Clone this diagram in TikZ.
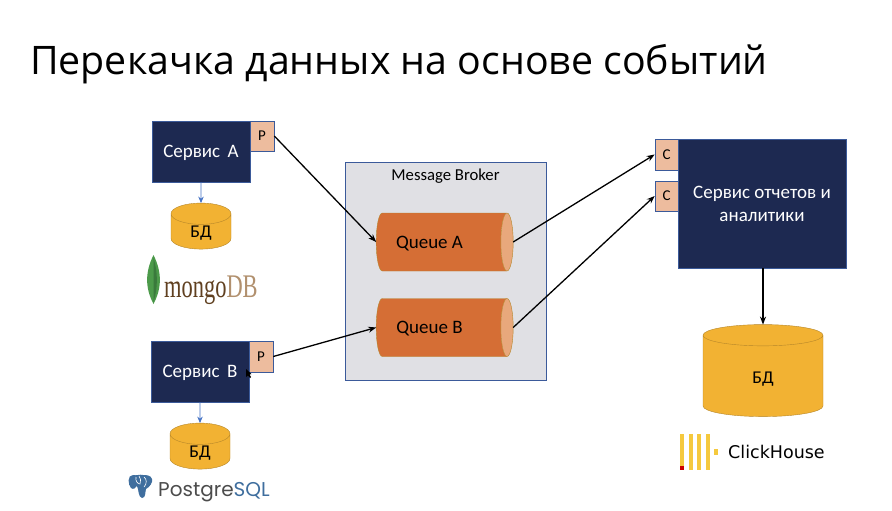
\documentclass[tikz,border=0pt]{standalone}
\usepackage{fontspec}
\setmainfont{Carlito}
\newfontfamily\titlefont{Open Sans}
\newfontfamily\logofont[FakeStretch=0.68]{Liberation Serif}
\newfontfamily\chfont{DejaVu Sans}
\newfontfamily\pgfont{Poppins}
\usetikzlibrary{shapes.geometric,arrows.meta}
\definecolor{svcblue}{HTML}{1D2951}
\definecolor{portfill}{HTML}{EDBC9E}
\definecolor{dbfill}{HTML}{F2B233}
\definecolor{dbline}{HTML}{B5862A}
\definecolor{qfill}{HTML}{D56E35}
\definecolor{qcap}{HTML}{E8A87C}
\definecolor{brokerfill}{HTML}{E0E0E4}
\definecolor{bline}{HTML}{3B5A9A}
\definecolor{linkblue}{HTML}{4472C4}
\definecolor{chyellow}{HTML}{F5C93E}
\definecolor{pgblue}{HTML}{3F6E9E}
\definecolor{leafgreen}{HTML}{4C9A4A}
\definecolor{leafdark}{HTML}{3A7A3C}
\begin{document}
\begin{tikzpicture}[x=1pt,y=-1pt,
  svc/.style={draw=bline,fill=svcblue,text=white,line width=0.6pt,inner sep=0pt,align=center,text depth=0pt,font=\fontsize{19}{23}\selectfont},
  port/.style={draw=bline,fill=portfill,line width=0.6pt,inner sep=0pt,minimum width=24pt,font=\fontsize{15}{17}\selectfont},
  db/.style={cylinder,shape border rotate=90,aspect=1,draw=dbline,fill=dbfill,inner sep=0pt,outer sep=0pt,text depth=0pt,font=\fontsize{18}{20}\selectfont},
  queue/.style={cylinder,aspect=1,draw=dbline,cylinder uses custom fill,cylinder body fill=qfill,cylinder end fill=qcap,inner sep=0pt,outer sep=0pt,minimum width=58pt,minimum height=137pt,text depth=0pt,font=\fontsize{19}{21}\selectfont},
  link/.style={-{Stealth[length=8pt,width=6pt]},line width=1.3pt,black},
  thin link/.style={-{Stealth[length=6.5pt,width=5.5pt]},line width=0.8pt,linkblue}]
  \useasboundingbox (0,0) rectangle (892,511);
  \node[anchor=west,inner sep=0pt,font=\titlefont\fontsize{39.3}{44}\selectfont] (title) at (30,64) {Перекачка данных на основе событий};

  \node[draw=bline,fill=brokerfill,line width=0.7pt,minimum width=201pt,minimum height=218pt,inner sep=0pt] (broker) at (445.5,271) {};
  \node[font=\fontsize{16.7}{19}\selectfont] (brokerlabel) at (445.5,176) {Message Broker};
  \node[queue] (qa) at (441.5,242) {Queue A\kern24pt};
  \node[queue] (qb) at (441.5,327.5) {Queue B\kern24pt};

  \node[svc,minimum width=98pt,minimum height=61pt] (sa) at (201,151.5) {Сервис\, A};
  \node[port,minimum height=30pt] (pa) at (262,136) {P};
  \node[svc,minimum width=98pt,minimum height=61pt] (sb) at (200,371.5) {Сервис\, B};
  \node[port,minimum height=31pt] (pb) at (261,356.5) {P};
  \node[svc,minimum width=168pt,minimum height=129pt] (report) at (762,203.5) {Сервис отчетов и\\аналитики};
  \node[port,minimum width=23pt,minimum height=31pt] (ca) at (666.5,154.5) {C};
  \node[port,minimum width=23pt,minimum height=30pt] (cb) at (666.5,196) {C};

  \node[db,minimum width=60pt,minimum height=46pt] (dba) at (201,231.5) {БД};
  \node[db,minimum width=60pt,minimum height=46pt] (dbb) at (200,451.5) {БД};
  \node[db,minimum width=120pt,minimum height=92pt] (dbr) at (763,376) {\raisebox{-2.5pt}{БД}};

  \draw[link] (pa.east) -- (qa.west);
  \draw[link] (pb.east) -- (qb.west);
  \draw[link] (qa.east) -- (ca.west);
  \draw[link] (qb.east) -- (cb.west);
  \draw[link] (report.south-|dbr.north) -- (dbr.north);
  \draw[thin link] (sa) -- (dba.north);
  \draw[thin link] (sb) -- (dbb.north);

  \fill[black] (246,369) -- (246,377) -- (248,375.5) -- (250,378) -- (251,377) -- (249.5,374.5) -- (251.5,374) -- cycle;

  \fill[leafgreen] (153.5,255) .. controls (145,272) and (145,288) .. (153.5,304) .. controls (162,288) and (162,272) .. (153.5,255);
  \fill[leafdark] (153.5,258) .. controls (158,272) and (158,288) .. (153.5,302) -- cycle;
  \node[anchor=base west,inner sep=0pt,font=\logofont\fontsize{33}{35}\selectfont,text=brown!50!black] (mongo) at (164,297) {mongo\textcolor{brown!75!black!70}{DB}};

  \fill[pgblue] (133,475) .. controls (127,475) and (128,485) .. (131,488) .. controls (133,490) and (136,488) .. (137,486) .. controls (139,490) and (138,497) .. (142,498) .. controls (146,498) and (145,492) .. (146,489) .. controls (150,487) and (153,482) .. (152,479) .. controls (151,475) and (146,475) .. (143,475) .. controls (140,474) and (136,476) .. (133,475) -- cycle;
  \draw[white,line width=0.6pt] (136,477) .. controls (135,481) and (138,484) .. (140,484) .. controls (141,481) and (141,478) .. (139,476);
  \draw[white,line width=0.6pt] (144,477) .. controls (147,479) and (147,484) .. (144,487);
  \node[anchor=base west,inner sep=0pt,font=\pgfont\fontsize{20}{22}\selectfont,text=black!70] (pg) at (158,496) {Postgre\textcolor{pgblue}{SQL}};

  \foreach \i in {0,1,2,3}
    \fill[chyellow] ({680+8.5*\i},434) rectangle ({684+8.5*\i},470);
  \fill[chyellow] (714,449) rectangle (718,455);
  \fill[red!80!black] (680,466) rectangle (684,470);
  \node[anchor=west,inner sep=0pt,font=\chfont\fontsize{17.5}{20}\selectfont] (ch) at (728,452) {ClickHouse};
\end{tikzpicture}
\end{document}
